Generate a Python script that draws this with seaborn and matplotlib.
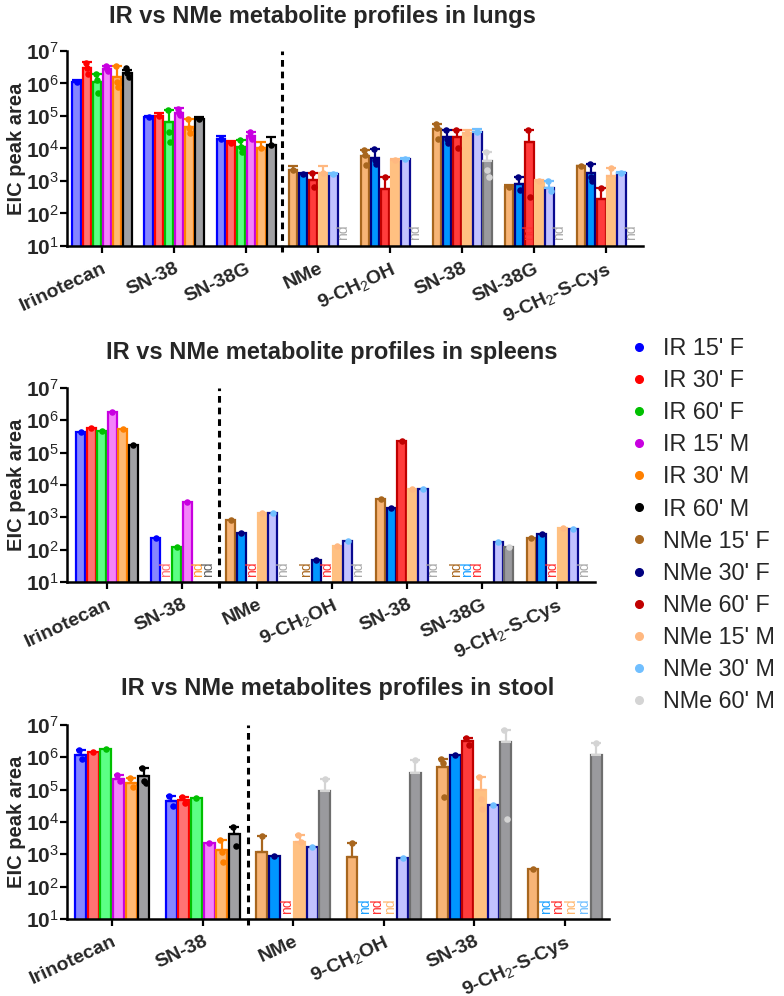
import matplotlib
matplotlib.use("Agg")
import matplotlib.pyplot as plt
import matplotlib.transforms as mtransforms
from matplotlib.lines import Line2D
import numpy as np
import pandas as pd
import seaborn as sns

ir_series = ["IR 15' F", "IR 30' F", "IR 60' F", "IR 15' M", "IR 30' M", "IR 60' M"]
nme_series = ["NMe 15' F", "NMe 30' F", "NMe 60' F", "NMe 15' M", "NMe 30' M", "NMe 60' M"]

# ---- lungs ----
lung_ir_groups = ["Irinotecan", "SN-38", "SN-38G"]
lung_nme_groups = ["NMe", "9-CH$_2$OH", "SN-38", "SN-38G", "9-CH$_2$-S-Cys"]
lung_ir_mean = [[1.15e6, 3.1e6, 1.1e6, 2.8e6, 1.6e6, 2.1e6],
                [9.1e4, 1.0e5, 6.5e4, 1.2e5, 4.7e4, 8.0e4],
                [2.0e4, 1.45e4, 1.1e4, 2.4e4, 1.0e4, 1.3e4]]
lung_ir_top = [[1.25e6, 4.5e6, 1.95e6, 3.5e6, 3.5e6, 2.6e6],
               [1.0e5, 1.2e5, 1.5e5, 1.8e5, 8.1e4, 9.0e4],
               [2.4e4, 1.7e4, 1.8e4, 3.3e4, 1.6e4, 2.3e4]]
lung_nme_mean = [[2.2e3, 1.65e3, 1.07e3, 1.8e3, 1.65e3, None],
                 [6.0e3, 5.0e3, 580, 4.5e3, 4.9e3, None],
                 [3.9e4, 2.3e4, 2.2e4, 2.9e4, 3.3e4, 4.2e3],
                 [670, 810, 1.6e4, 1.0e3, 600, None],
                 [2.8e3, 1.75e3, 275, 1.45e3, 1.75e3, None]]
lung_nme_top = [[2.9e3, 1.8e3, 1.75e3, 2.9e3, 1.75e3, None],
                [8.9e3, 9.5e3, 1.35e3, 4.6e3, 5.0e3, None],
                [5.6e4, 3.7e4, 3.8e4, 3.8e4, 4.0e4, 7.9e3],
                [750, 1.3e3, 3.7e4, 1.05e3, 1.0e3, None],
                [2.9e3, 3.3e3, 600, 2.5e3, 1.85e3, None]]
lung_pts = {(0, 1): [4.2e6, 2.9e6, 2.0e6], (0, 2): [1.9e6, 1.3e6, 5e5],
            (0, 3): [3.5e6, 2.8e6, 2.4e6], (0, 4): [3.5e6, 1.15e6, 8e5],
            (0, 5): [2.9e6, 2.05e6, 1.6e6], (1, 2): [1.5e5, 3.2e4, 1.6e4],
            (1, 3): [1.7e5, 1.2e5, 1.1e5], (1, 4): [8.1e4, 4.2e4, 3e4],
            (2, 2): [1.8e4, 1.1e4, 8e3], (2, 3): [3.3e4, 2.2e4, 2.0e4],
            (3, 2): [1.75e3, 650], (4, 0): [8.9e3, 6.3e3, 3.1e3],
            (4, 1): [9.5e3, 4.4e3, 3.4e3], (4, 2): [1.35e3],
            (5, 0): [5.6e4, 4.2e4, 2.0e4], (5, 1): [3.7e4, 2.0e4, 1.5e4],
            (5, 2): [3.8e4, 1.0e4], (5, 5): [7.9e3, 2.2e3, 1.35e3],
            (6, 1): [1.3e3, 520], (6, 2): [3.7e4, 320], (6, 4): [1.0e3, 480],
            (7, 1): [3.3e3, 1.35e3, 1.0e3], (7, 2): [600], (7, 3): [2.5e3]}
lung_nd = [(3, 5), (4, 5), (6, 2), (6, 5), (7, 5)]

# ---- spleens ----
spleen_ir_groups = ["Irinotecan", "SN-38"]
spleen_nme_groups = ["NMe", "9-CH$_2$OH", "SN-38", "SN-38G", "9-CH$_2$-S-Cys"]
spleen_ir_mean = [[4.4e5, 5.6e5, 4.6e5, 1.8e6, 5.5e5, 1.7e5],
                  [230, None, 118, 2.9e3, None, None]]
spleen_nme_mean = [[830, 320, None, 1.4e3, 1.4e3, None],
                   [None, 48, None, 130, 185, None],
                   [3.7e3, 1.9e3, 2.3e5, 7.4e3, 7.4e3, None],
                   [None, None, None, None, 170, 122],
                   [225, 300, None, 460, 430, None]]
spleen_nd = [(1, 1), (1, 4), (1, 5), (2, 2), (2, 5), (3, 0), (3, 2), (3, 5),
             (4, 5), (5, 0), (5, 1), (5, 2), (6, 2), (6, 5)]

# ---- stool ----
stool_ir_groups = ["Irinotecan", "SN-38"]
stool_nme_groups = ["NMe", "9-CH$_2$OH", "SN-38", "9-CH$_2$-S-Cys"]
stool_ir_mean = [[1.17e6, 1.5e6, 1.85e6, 2.2e5, 1.65e5, 2.6e5],
                 [4.5e4, 4.8e4, 5.6e4, 2.2e3, 1.4e3, 4.3e3]]
stool_ir_top = [[1.7e6, None, None, 2.8e5, 2.3e5, 4.8e5],
                [6.5e4, 6.0e4, None, None, 2.75e3, 6.9e3]]
stool_nme_mean = [[1.17e3, 910, None, 2.45e3, 1.72e3, 9.3e4],
                  [850, None, None, None, 790, 3.3e5],
                  [4.9e5, 1.17e6, 3.2e6, 1.0e5, 3.4e4, 3.0e6],
                  [350, None, None, None, None, 1.17e6]]
stool_nme_top = [[3.7e3, None, None, 4.0e3, None, 2.2e5],
                 [2.2e3, None, None, None, None, 8.0e5],
                 [8.7e5, None, 3.9e6, 2.5e5, None, 7.0e6],
                 [None, None, None, None, None, 2.8e6]]
stool_pts = {(0, 0): [1.7e6, 9e5], (0, 3): [2.8e5, 1.9e5], (0, 4): [2.3e5, 1.2e5],
             (0, 5): [4.8e5, 1.9e5, 1.6e5], (1, 0): [6.5e4, 3.2e4], (1, 1): [6e4, 4e4],
             (1, 4): [2.75e3, 1.15e3, 590], (1, 5): [6.9e3, 1.8e3],
             (2, 0): [3.7e3], (2, 3): [4.0e3, 2.45e3], (2, 5): [2.2e5],
             (3, 0): [2.2e3], (3, 5): [8.0e5], (4, 0): [8.7e5, 6.6e5, 5.9e4],
             (4, 2): [3.9e6, 2.4e6], (4, 3): [2.5e5, 5e4, 2.6e4],
             (4, 5): [7.0e6, 1.2e4], (5, 5): [2.8e6]}
stool_nd = [(2, 2), (3, 1), (3, 2), (3, 3), (5, 1), (5, 2), (5, 3), (5, 4)]

# colours
ir_fill = ['#8585FF', '#FF7373', '#5CFF85', '#F483FA', '#FFB973', '#A0A0A3']
ir_edge = ['#0000FF', '#FF0000', '#00C000', '#C800E0', '#FF8000', '#000000']
ir_dot = ['#0000FF', '#FF0000', '#00C000', '#C800E0', '#FF8000', '#000000']
ir_nd = ['#8080FF', '#FF7070', '#40C060', '#E070F0', '#FF9A30', '#606060']
nme_fill = ['#F7B476', '#0096FF', '#FF3C3C', '#FFC081', '#C2C2FF', '#9A9A9E']
nme_edge = ['#A8661E', '#00007F', '#C00000', '#FFC081', '#0A0A90', '#6E6E6E']
nme_dot = ['#A8661E', '#00007F', '#C00000', '#FFB880', '#70BFFF', '#D4D4D4']
nme_nd = ['#A8661E', '#1AA0FF', '#FF3030', '#FFB870', '#70BFFF', '#A8A8A8']

sns.set_style("ticks")
plt.rcParams['font.family'] = ['Liberation Sans', 'DejaVu Sans']
plt.rcParams['mathtext.fontset'] = 'custom'
plt.rcParams['mathtext.rm'] = 'Liberation Sans'
plt.rcParams['mathtext.bf'] = 'Liberation Sans:bold'
plt.rcParams['mathtext.it'] = 'Liberation Sans:italic'
plt.rcParams['mathtext.sf'] = 'Liberation Sans'
plt.rcParams['mathtext.default'] = 'rm'

fig = plt.figure(figsize=(7.84, 9.96), dpi=100)


def draw_panel(rect, ir_groups, nme_groups, ir_mean, ir_top, nme_mean, nme_top,
               pts, nd, xlim, title, title_xy):
    ax = fig.add_axes(rect)
    ax.set_yscale('log')
    labels = ir_groups + nme_groups
    cats = [f"c{i}" for i in range(len(labels))]
    n_ir = len(ir_groups)
    blocks = [(ir_series, ir_mean, ir_top, ir_fill, ir_edge, ir_dot, 0),
              (nme_series, nme_mean, nme_top, nme_fill, nme_edge, nme_dot, n_ir)]
    offsets = {}
    for b, (names, mean, top, fill, edge, dot, start) in enumerate(blocks):
        rows = [(cats[start + g], names[s], v) for g, vals in enumerate(mean)
                for s, v in enumerate(vals) if v is not None]
        df = pd.DataFrame(rows, columns=['cat', 'series', 'value'])
        n0 = len(ax.containers)
        sns.barplot(data=df, x='cat', y='value', hue='series', order=cats,
                    hue_order=names, palette=fill, saturation=1, width=0.84,
                    gap=0.14, errorbar=None, linewidth=1.6, legend=False, ax=ax)
        bar_x = {}
        for s, cont in enumerate(ax.containers[n0:]):
            for p in cont.patches:
                p.set_edgecolor(edge[s])
                xc = p.get_x() + p.get_width() / 2
                g = int(round(xc))
                bar_x[(g, s)] = xc
                offsets[(b, s)] = xc - g
        for g, vals in enumerate(mean):
            for s, v in enumerate(vals):
                if v is None:
                    continue
                x = bar_x[(start + g, s)]
                t = top[g][s] if top is not None else None
                if t is not None and t > v:
                    ax.errorbar([x], [v], yerr=[[0], [t - v]], color=dot[s],
                                capsize=3.5, elinewidth=1.6, capthick=1.6,
                                zorder=4, fmt='none')
                reps = pts.get((start + g, s), [v])
                dx = np.linspace(-0.018, 0.018, len(reps)) if len(reps) > 1 else [0]
                ax.scatter(x + np.asarray(dx), reps, s=22, color=dot[s],
                           zorder=5, linewidths=0, clip_on=False)
    for g, s in nd:
        b = 0 if g < n_ir else 1
        col = (ir_nd if b == 0 else nme_nd)[s]
        ax.text(g + offsets[(b, s)], 10 ** 1.17, 'nd', rotation=90, ha='center',
                va='bottom', color=col, fontsize=10, zorder=7)

    ax.axvline(n_ir - 0.5, ymin=-0.03, ymax=1.0, color='black', lw=2.2,
               ls=(0, (2.2, 1.6)), clip_on=False, zorder=6)
    ax.set_xlim(*xlim)
    ax.set_ylim(10, 1e7)
    ax.set_yticks([10.0 ** k for k in range(1, 8)])
    ax.set_yticklabels([r'$\mathbf{10}^{%d}$' % k for k in range(1, 8)],
                       fontsize=15)
    ax.minorticks_off()
    ax.set_xticks(range(len(labels)))
    ax.set_xticklabels(labels, rotation=25, ha='right', rotation_mode='anchor',
                       fontsize=14, fontweight='bold')
    ax.tick_params(axis='both', length=5, width=1.6, color='black')
    ax.tick_params(axis='y', pad=1)
    ax.tick_params(axis='x', pad=5)
    for side in ['top', 'right']:
        ax.spines[side].set_visible(False)
    for side in ['left', 'bottom']:
        ax.spines[side].set_linewidth(1.8)
        ax.spines[side].set_color('black')
    ax.set_xlabel('')
    ax.set_ylabel('EIC peak area', fontsize=14.5, fontweight='bold')
    tr = mtransforms.blended_transform_factory(fig.transFigure, ax.transAxes)
    ax.yaxis.set_label_coords(26 / 784, 0.5, transform=tr)
    fig.text(title_xy[0] / 784, 1 - title_xy[1] / 996, title, ha='center',
             va='center', fontsize=17, fontweight='bold')
    return ax


W, H = 784, 996
draw_panel([67 / W, 1 - 246 / H, (643 - 67) / W, 195 / H],
           lung_ir_groups, lung_nme_groups, lung_ir_mean, lung_ir_top,
           lung_nme_mean, lung_nme_top, lung_pts, lung_nd, (-0.486, 7.51),
           "IR vs NMe metabolite profiles in lungs", (322, 17))
draw_panel([67 / W, 1 - 582 / H, (595 - 67) / W, 194 / H],
           spleen_ir_groups, spleen_nme_groups, spleen_ir_mean, None,
           spleen_nme_mean, None, {}, spleen_nd, (-0.53, 6.5),
           "IR vs NMe metabolite profiles in spleens", (332, 352))
draw_panel([67 / W, 1 - 919 / H, (609 - 67) / W, 194 / H],
           stool_ir_groups, stool_nme_groups, stool_ir_mean, stool_ir_top,
           stool_nme_mean, stool_nme_top, stool_pts, stool_nd, (-0.5, 5.49),
           "IR vs NMe metabolites profiles in stool", (338, 688))

handles = [Line2D([], [], marker='o', ls='', color=c, markersize=5.5)
           for c in ir_dot + nme_dot]
fig.legend(handles, ir_series + nme_series, loc='upper left',
           bbox_to_anchor=(632 / W, 1 - 337 / H), frameon=False, fontsize=16.8,
           handlelength=0.6, handletextpad=0.73, labelspacing=0.39,
           borderpad=0, borderaxespad=0)

fig.savefig("out.png", dpi=100)
